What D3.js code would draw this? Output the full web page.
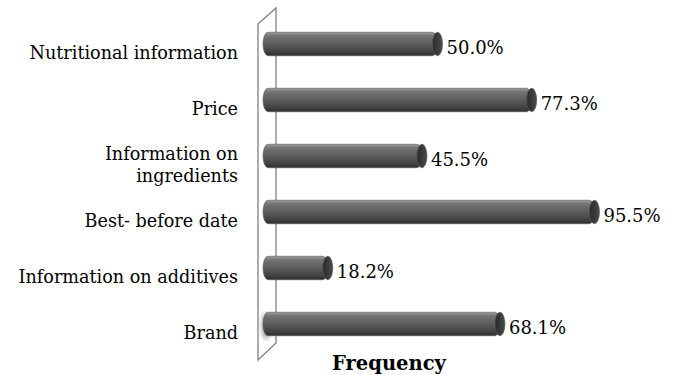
<!DOCTYPE html>
<html>
<head>
<meta charset="utf-8">
<script src="https://cdn.jsdelivr.net/npm/d3@7"></script>
<style>
  body { margin: 0; background: #fff; }
  svg { display: block; }
</style>
</head>
<body>
<svg id="chart" width="681" height="375"></svg>
<script>
// categories top to bottom, as in the picture
var categories = [
    ["Nutritional information"],
    ["Price"],
    ["Information on", "ingredients"],
    ["Best- before date"],
    ["Information on additives"],
    ["Brand"]
];
var values = [50.0, 77.3, 45.5, 95.5, 18.2, 68.1];
var axisTitle = "Frequency";

var svg = d3.select("#chart");

var x = d3.scaleLinear()
    .domain([0, 100])
    .range([265, 610]);

var y = d3.scaleBand()
    .domain(d3.range(categories.length))
    .range([16, 352])
    .paddingInner(0.58)
    .paddingOuter(0.29);

var defs = svg.append("defs");

// cylinder shading
var grad = defs.append("linearGradient")
    .attr("id", "cyl")
    .attr("x1", 0).attr("y1", 0).attr("x2", 0).attr("y2", 1);
grad.append("stop").attr("offset", "0%").attr("stop-color", "#a0a0a0");
grad.append("stop").attr("offset", "15%").attr("stop-color", "#747474");
grad.append("stop").attr("offset", "50%").attr("stop-color", "#5c5c5c");
grad.append("stop").attr("offset", "85%").attr("stop-color", "#404040");
grad.append("stop").attr("offset", "100%").attr("stop-color", "#2e2e2e");

var capGrad = defs.append("linearGradient")
    .attr("id", "cap")
    .attr("x1", 0).attr("y1", 0).attr("x2", 1).attr("y2", 0);
capGrad.append("stop").attr("offset", "0%").attr("stop-color", "#2a2a2a");
capGrad.append("stop").attr("offset", "100%").attr("stop-color", "#4a4a4a");

var blur = defs.append("filter").attr("id", "blur")
    .attr("x", "-100%").attr("y", "-100%").attr("width", "300%").attr("height", "300%");
blur.append("feGaussianBlur").attr("stdDeviation", 2.5);

// the back wall (parallelogram)
var wall = svg.append("g");
wall.append("path")
    .attr("d", "M258,24 L276,8 L276,343 L258,360 Z")
    .attr("fill", "#fff")
    .attr("stroke", "#808080")
    .attr("stroke-width", 1.3);

// shadow at the bottom of the wall
wall.append("ellipse")
    .attr("cx", 266).attr("cy", y(5) + y.bandwidth() / 2 + 2)
    .attr("rx", 3.5).attr("ry", 13)
    .attr("fill", "#888")
    .attr("filter", "url(#blur)");

var bh = y.bandwidth();
var r = bh / 2;
var capW = 5;

var bars = svg.append("g").selectAll("g")
    .data(values)
    .enter()
    .append("g")
    .attr("transform", function(d, i) { return "translate(0," + y(i) + ")"; });

bars.append("rect")
    .attr("x", x(0) - 2)
    .attr("y", 0)
    .attr("width", function(d) { return x(d) - x(0) + 2; })
    .attr("height", bh)
    .attr("rx", 5).attr("ry", r)
    .attr("fill", "url(#cyl)")
    .attr("stroke", "#555")
    .attr("stroke-width", 0.6);

bars.append("ellipse")
    .attr("cx", function(d) { return x(d); })
    .attr("cy", r)
    .attr("rx", capW)
    .attr("ry", r)
    .attr("fill", "url(#cap)")
    .attr("stroke", "#555")
    .attr("stroke-width", 0.6);

// value labels
bars.append("text")
    .attr("x", function(d) { return x(d) + capW + 4; })
    .attr("y", r + 10.5)
    .attr("font-family", "DejaVu Serif, serif")
    .attr("font-size", 18)
    .attr("fill", "#000")
    .text(function(d) { return d.toFixed(1) + "%"; });

// category labels
var labels = svg.append("g").selectAll("text")
    .data(categories)
    .enter()
    .append("text")
    .attr("text-anchor", "end")
    .attr("font-family", "DejaVu Serif, serif")
    .attr("font-size", 17.6)
    .attr("fill", "#000")
    .attr("transform", function(d, i) {
        var base = y(i) + bh / 2 + 15 - (d.length - 1) * 11;
        return "translate(238," + base + ")";
    });

labels.selectAll("tspan")
    .data(function(d) { return d; })
    .enter()
    .append("tspan")
    .attr("x", 0)
    .attr("dy", function(d, i) { return i === 0 ? 0 : 22; })
    .text(function(d) { return d; });

// axis title
svg.append("text")
    .attr("x", 389)
    .attr("y", 370)
    .attr("text-anchor", "middle")
    .attr("font-family", "DejaVu Serif, serif")
    .attr("font-weight", "bold")
    .attr("font-size", 19.5)
    .text(axisTitle);
</script>
</body>
</html>
